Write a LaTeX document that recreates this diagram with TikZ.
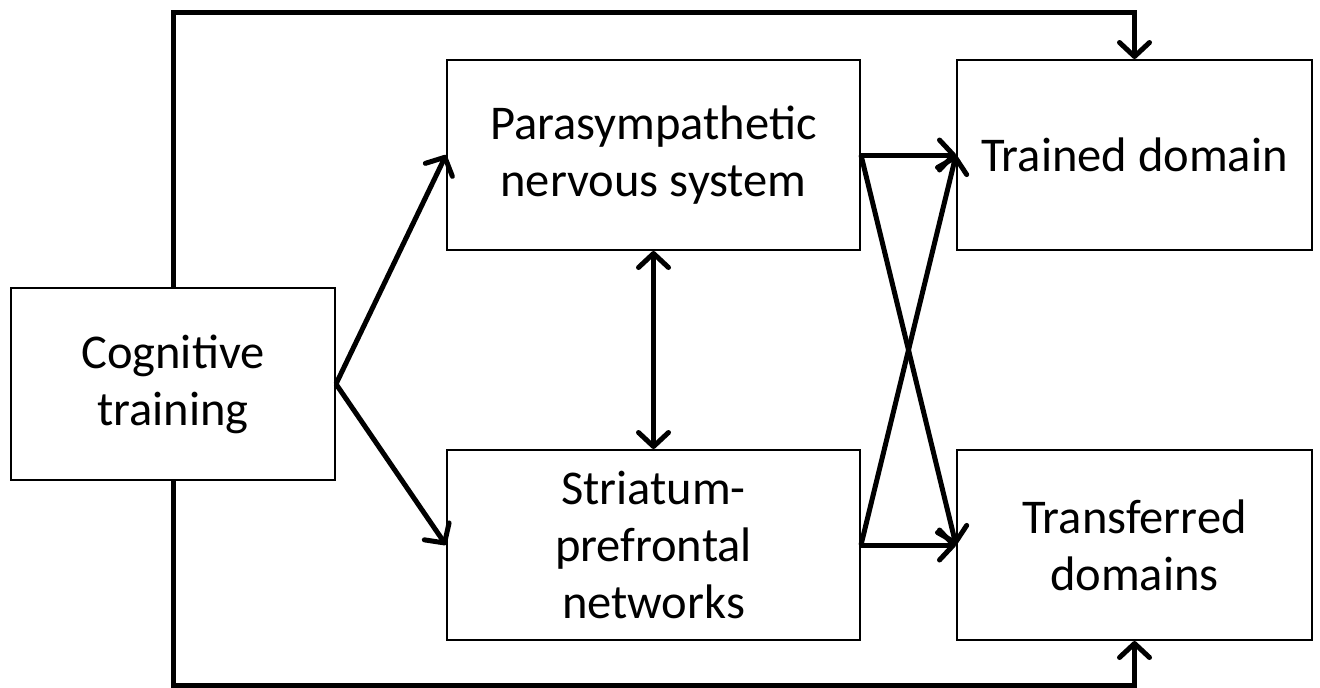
\documentclass[tikz,border=0pt]{standalone}
\usepackage{fontspec}
\setmainfont{Carlito}
\usetikzlibrary{arrows.meta}

\begin{document}
\begin{tikzpicture}[x=1pt,y=-1pt,
  box/.style={draw,line width=2pt,align=center,inner sep=0pt,
    font=\fontsize{48.5}{57}\selectfont},
  arr/.style={line width=5pt,-{Straight Barb[length=14pt,width=30pt,round]}},
  darr/.style={line width=5pt,{Straight Barb[length=14pt,width=30pt,round]}-{Straight Barb[length=14pt,width=30pt,round]}}]
  \useasboundingbox (0,0) rectangle (1320,688);
  % boxes
  \node[box,minimum width=324pt,minimum height=192pt] (cog) at (173,384) {Cognitive\\training};
  \node[box,minimum width=413pt,minimum height=190pt] (para) at (653.5,155) {Parasympathetic\\nervous system};
  \node[box,minimum width=413pt,minimum height=190pt] (stri) at (653.5,545) {Striatum-\\prefrontal\\networks};
  \node[box,minimum width=355pt,minimum height=190pt] (trained) at (1134.5,155) {Trained domain};
  \node[box,minimum width=355pt,minimum height=190pt] (trans) at (1134.5,545) {Transferred\\domains};
  \coordinate (top) at (650,12);
  \coordinate (bot) at (650,685);
  % connectors
  \draw[arr] (cog.east) -- (para.west);
  \draw[arr] (cog.east) -- (stri.west);
  \draw[darr] (para.south) -- (stri.north);
  \draw[arr] (para.east) -- (trained.west);
  \draw[arr] (para.east) -- (trans.west);
  \draw[arr] (stri.east) -- (trans.west);
  \draw[arr] (stri.east) -- (trained.west);
  \draw[arr] (cog.north) |- (top) -| (trained.north);
  \draw[arr] (cog.south) |- (bot) -| (trans.south);
\end{tikzpicture}
\end{document}
